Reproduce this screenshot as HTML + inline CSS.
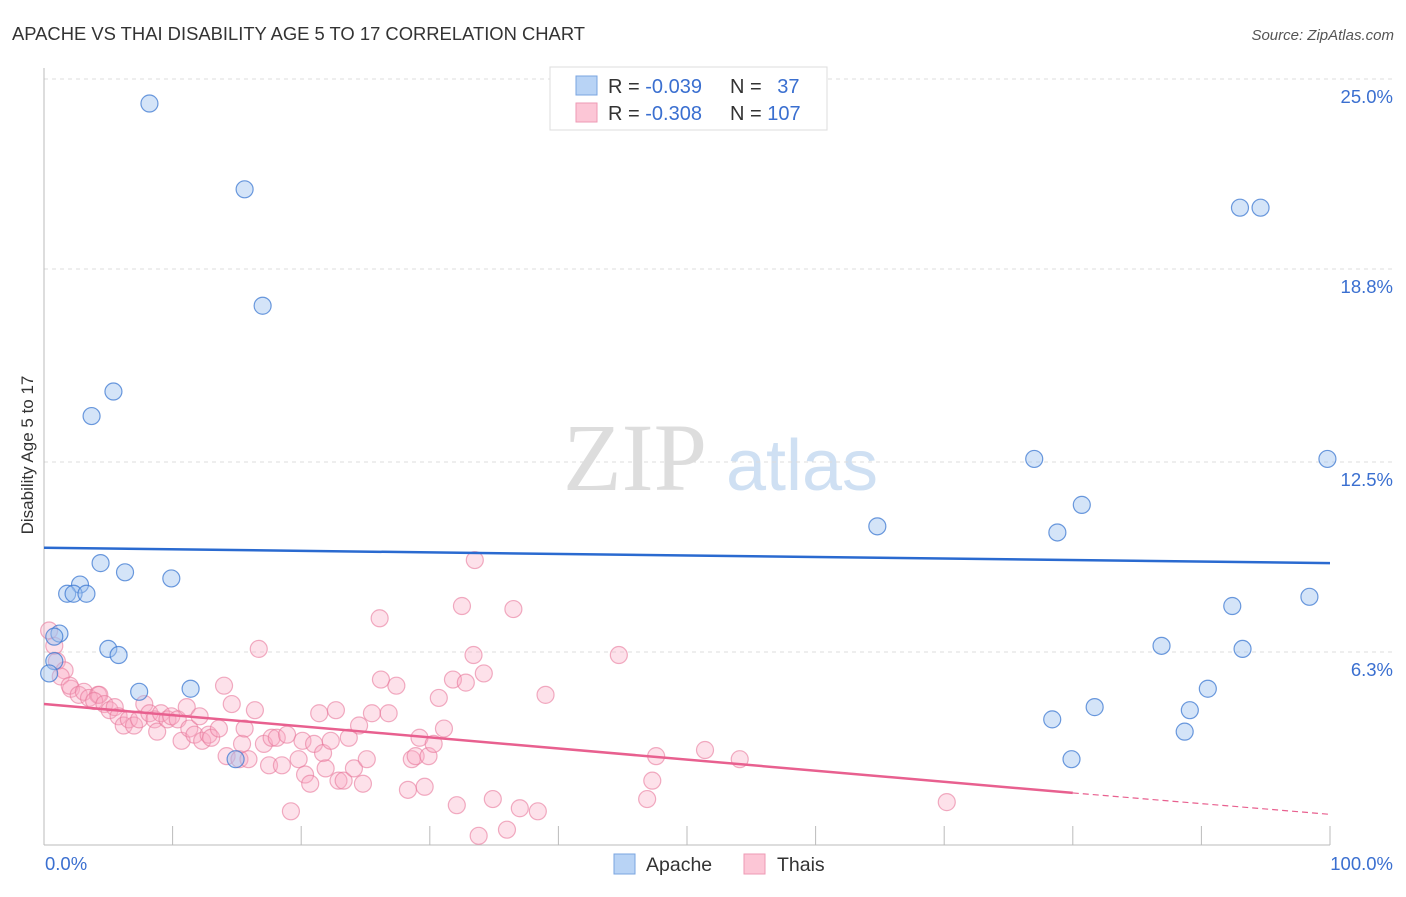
<!DOCTYPE html>
<html><head><meta charset="utf-8"><style>
body{margin:0;background:#fff;font-family:"Liberation Sans",sans-serif;}
svg text{font-family:"Liberation Sans",sans-serif;}
</style></head><body>
<svg id="chart" width="1406" height="892">
<text x="12" y="40" font-size="18.4" fill="#333">APACHE VS THAI DISABILITY AGE 5 TO 17 CORRELATION CHART</text>
<text x="1394" y="40" font-size="15" fill="#555" font-style="italic" text-anchor="end">Source: ZipAtlas.com</text>
<text x="33" y="455" font-size="17" fill="#333" text-anchor="middle" transform="rotate(-90 33 455)">Disability Age 5 to 17</text>
<g>
<text x="635" y="490" font-size="96" fill="#ddd" font-family="Liberation Serif" text-anchor="middle" style="font-family:'Liberation Serif',serif">ZIP</text>
<text x="802" y="490" font-size="72" fill="#cfe0f3" text-anchor="middle">atlas</text>
</g>
<g id="grid"></g>
<line x1="44" y1="68" x2="44" y2="845" stroke="#bbb"/>
<line x1="44" y1="845" x2="1330" y2="845" stroke="#bbb"/>
<g id="xticks"></g>
<text x="45" y="870" font-size="18.5" fill="#3a6fd0">0.0%</text>
<text x="1393" y="870" font-size="18.5" fill="#3a6fd0" text-anchor="end">100.0%</text>
<g id="thai"></g>
<g id="apache"></g>
<g id="trends"></g>
<g>
<rect x="550" y="67" width="277" height="63" fill="#fff" stroke="#ddd"/>
<rect x="576" y="76" width="21" height="19" fill="#b8d3f5" stroke="#7aa5e0"/>
<rect x="576" y="103" width="21" height="19" fill="#fcc6d6" stroke="#ee9ab4"/>
<text x="608" y="93" font-size="20" fill="#333">R = <tspan fill="#3a6fd0">-0.039</tspan></text>
<text x="730" y="93" font-size="20" fill="#333">N = <tspan fill="#3a6fd0" dx="10">37</tspan></text>
<text x="608" y="120" font-size="20" fill="#333">R = <tspan fill="#3a6fd0">-0.308</tspan></text>
<text x="730" y="120" font-size="20" fill="#333">N = <tspan fill="#3a6fd0">107</tspan></text>
</g>
<g>
<rect x="614" y="854" width="21" height="20" fill="#b8d3f5" stroke="#7aa5e0"/>
<text x="646" y="871" font-size="19.5" fill="#333">Apache</text>
<rect x="744" y="854" width="21" height="20" fill="#fcc6d6" stroke="#ee9ab4"/>
<text x="777" y="871" font-size="19.5" fill="#333">Thais</text>
</g>
</svg>
<script>
const yTicks=[25.0,18.8,12.5,6.3];
const yTickLabels=["25.0%","18.8%","12.5%","6.3%"];
const apacheX=[8.2,15.6,17.0,5.4,3.7,4.4,6.3,9.9,2.8,1.8,2.3,3.3,1.2,0.8,5.0,5.8,0.8,0.4,7.4,11.4,14.9,93.0,94.6,77.0,99.8,64.8,80.7,78.8,92.4,98.4,86.9,93.2,90.5,78.4,81.7,89.1,88.7,79.9];
const apacheY=[24.2,21.4,17.6,14.8,14.0,9.2,8.9,8.7,8.5,8.2,8.2,8.2,6.9,6.8,6.4,6.2,6.0,5.6,5.0,5.1,2.8,20.8,20.8,12.6,12.6,10.4,11.1,10.2,7.8,8.1,6.5,6.4,5.1,4.1,4.5,4.4,3.7,2.8];
const thaiX=[0.4,0.8,1.0,1.6,1.3,2.1,2.0,2.7,3.1,3.5,4.2,4.3,3.9,4.7,5.1,5.5,5.8,6.2,6.6,7.0,7.4,7.8,8.2,8.6,8.8,9.1,9.6,9.9,10.4,10.7,11.1,11.3,11.7,12.1,12.3,12.8,13.0,13.6,14.0,14.2,14.6,15.2,15.4,15.6,15.9,16.4,16.7,17.1,17.5,17.7,18.1,18.5,18.9,19.2,19.8,20.1,20.3,20.7,21.0,21.4,21.7,21.9,22.3,22.7,22.9,23.3,23.7,24.1,24.5,24.8,25.1,25.5,26.1,26.2,26.8,27.4,28.3,28.6,28.9,29.2,29.6,29.9,30.3,30.7,31.1,31.8,32.1,32.5,32.8,33.5,33.4,33.8,34.2,34.9,36.0,36.5,37.0,38.4,39.0,44.7,46.9,47.3,47.6,51.4,54.1,70.2];
const thaiY=[7.0,6.5,6.0,5.7,5.5,5.1,5.2,4.9,5.0,4.8,4.9,4.9,4.7,4.6,4.4,4.5,4.2,3.9,4.1,3.9,4.1,4.6,4.3,4.1,3.7,4.3,4.1,4.2,4.1,3.4,4.5,3.8,3.6,4.2,3.4,3.6,3.5,3.8,5.2,2.9,4.6,2.8,3.3,3.8,2.8,4.4,6.4,3.3,2.6,3.5,3.5,2.6,3.6,1.1,2.8,3.4,2.3,2.0,3.3,4.3,3.0,2.5,3.4,4.4,2.1,2.1,3.5,2.5,3.9,2.0,2.8,4.3,7.4,5.4,4.3,5.2,1.8,2.8,2.9,3.5,1.9,2.9,3.3,4.8,3.8,5.4,1.3,7.8,5.3,9.3,6.2,0.3,5.6,1.5,0.5,7.7,1.2,1.1,4.9,6.2,1.5,2.1,2.9,3.1,2.8,1.4];
const apacheTrend=[9.7,9.2];
const thaiTrend=[4.6,1.7,1.0];
const X0=44,X1=1330,YB=845,PX=191.5/6.25;
const sx=v=>X0+v/100*(X1-X0);
const sy=v=>YB-v*PX;
const NS='http://www.w3.org/2000/svg';
function mk(tag,attrs,parent){const e=document.createElementNS(NS,tag);for(const k in attrs)e.setAttribute(k,attrs[k]);document.getElementById(parent).appendChild(e);return e;}
yTicks.forEach((t,i)=>{
 const l=mk('line',{x1:44,x2:1395,y1:sy(t),y2:sy(t),stroke:'#ddd','stroke-dasharray':'4,4'},'grid');
 
 
 const tx=mk('text',{x:1393,y:sy(t)+24,'font-size':18.5,fill:'#3a6fd0','text-anchor':'end'},'grid');
 tx.textContent=yTickLabels[i];
 
 
});
for(let i=1;i<=10;i++){
 const l=mk('line',{x1:sx(i*10),x2:sx(i*10),y1:826,y2:845,stroke:'#bbb'},'xticks');
 
 
}
thaiX.forEach((x,i)=>{
 const c=mk('circle',{cx:sx(x),cy:sy(thaiY[i]),r:8.5,fill:'rgba(248,170,195,0.35)',stroke:'rgba(232,120,155,0.6)','stroke-width':1.2},'thai');
 
 
});
apacheX.forEach((x,i)=>{
 const c=mk('circle',{cx:sx(x),cy:sy(apacheY[i]),r:8.5,fill:'rgba(160,196,240,0.45)',stroke:'rgba(60,120,210,0.75)','stroke-width':1.2},'apache');
 
 
});
let t=mk('line',{x1:sx(0),y1:sy(apacheTrend[0]),x2:sx(100),y2:sy(apacheTrend[1]),stroke:'#2a6ad0','stroke-width':2.5},'trends');


t=mk('line',{x1:sx(0),y1:sy(thaiTrend[0]),x2:sx(80),y2:sy(thaiTrend[1]),stroke:'#e8608f','stroke-width':2.5},'trends');


t=mk('line',{x1:sx(80),y1:sy(thaiTrend[1]),x2:sx(100),y2:sy(thaiTrend[2]),stroke:'#e8608f','stroke-width':1.2,'stroke-dasharray':'6,4'},'trends');


</script>
</body></html>
